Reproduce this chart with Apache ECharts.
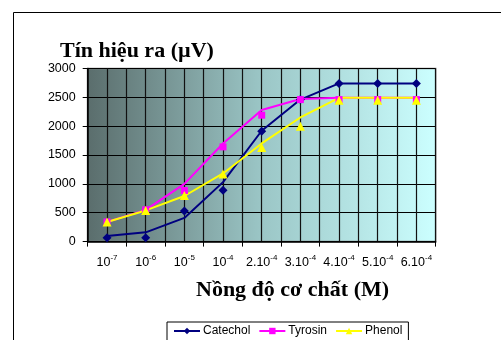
<!DOCTYPE html>
<html>
<head>
<meta charset="utf-8">
<script src="https://cdn.jsdelivr.net/npm/echarts@6/dist/echarts.min.js"></script>
<style>html,body{margin:0;padding:0;background:#fff;}#c{width:501px;height:340px;}</style>
</head>
<body>
<div id="c"></div>
<script>
// Tick labels: base and superscript exponent
var catBase = ['10', '10', '10', '10', '2.10', '3.10', '4.10', '5.10', '6.10'];
var catExp = ['-7', '-6', '-5', '-4', '-4', '-4', '-4', '-4', '-4'];
var categories = catBase.map(function (b, i) { return b + '^' + catExp[i]; });

// Series values (line = smoothed curve, pts = measured markers)
var catecholLine = [95, 160, 410, 1030, 1920, 2460, 2740, 2740, 2740];
var catecholPts  = [65, 65, 530, 890, 1910, 2460, 2740, 2740, 2740];
var tyrosinLine  = [340, 550, 1000, 1700, 2280, 2470, 2490, 2490, 2490];
var tyrosinPts   = [340, 550, 885, 1640, 2190, 2460, 2460, 2460, 2460];
var phenolLine   = [340, 540, 790, 1180, 1700, 2150, 2490, 2490, 2490];
var phenolPts    = [340, 540, 800, 1170, 1630, 2000, 2450, 2450, 2450];

var yTicks = [0, 500, 1000, 1500, 2000, 2500, 3000];
var gridCols = [];
for (var k = 0; k < categories.length * 2; k++) gridCols.push(String(k));

var chart = echarts.init(document.getElementById('c'));
var C1 = '#000080', C2 = '#ff00ff', C3 = '#ffff00';

function lineSeries(name, data, color, symbol, size) {
  return {
    name: name, type: 'line', data: data, xAxisIndex: 0, yAxisIndex: 0,
    symbol: symbol, symbolSize: size, showSymbol: false,
    lineStyle: { color: color, width: 2 }, itemStyle: { color: color },
    animation: false, z: 3
  };
}
function ptSeries(name, data, color, symbol, size) {
  return {
    name: name, type: 'scatter', data: data, xAxisIndex: 0, yAxisIndex: 0,
    symbol: symbol, symbolSize: size, itemStyle: { color: color, opacity: 1 },
    animation: false, z: 4
  };
}

chart.setOption({
  animation: false,
  title: [
    { text: 'Tín hiệu ra (µV)', left: 60, top: 40, padding: 0,
      textStyle: { fontFamily: 'Liberation Serif', fontWeight: 'bold', fontSize: 22, color: '#000' } },
    { text: 'Nồng độ cơ chất (M)', left: 196, top: 279, padding: 0,
      textStyle: { fontFamily: 'Liberation Serif', fontWeight: 'bold', fontSize: 22, color: '#000' } }
  ],
  graphic: [
    { type: 'rect', shape: { x: 13.5, y: 12.5, width: 600, height: 400 }, silent: true,
      style: { fill: null, stroke: '#000', lineWidth: 1 }, z: -10 }
  ],
  legend: {
    data: ['Catechol', 'Tyrosin', 'Phenol'],
    left: 167, top: 322, padding: [3, 6, 6, 6], itemGap: 8,
    itemWidth: 26, itemHeight: 8,
    borderColor: '#000', borderWidth: 1, backgroundColor: '#fff',
    textStyle: { fontFamily: 'Liberation Sans', fontSize: 12, color: '#000', padding: [0, 0, 0, -2] }
  },
  grid: { left: 87.7, right: 65.3, top: 68.4, bottom: 98.4, show: true,
    backgroundColor: { type: 'linear', x: 0, y: 0, x2: 1, y2: 0,
      colorStops: [{ offset: 0, color: '#5a6d6c' }, { offset: 0.5, color: '#9bc6c6' }, { offset: 1, color: '#ccffff' }] },
    borderColor: '#808080', borderWidth: 1.5 },
  xAxis: [
    { type: 'category', data: categories, boundaryGap: true,
      axisLine: { lineStyle: { color: '#000', width: 1.5 } },
      axisTick: { show: true, length: 5, inside: false, lineStyle: { color: '#000' } },
      splitLine: { show: false },
      axisLabel: { margin: 12, interval: 0,
        formatter: function (v) { var p = v.split('^'); return '{b|' + p[0] + '}{s|' + p[1] + '}'; },
        rich: {
          b: { fontFamily: 'Liberation Sans', fontSize: 12.5, color: '#000', verticalAlign: 'bottom', lineHeight: 15 },
          s: { fontFamily: 'Liberation Sans', fontSize: 8, color: '#000', verticalAlign: 'top', lineHeight: 15, padding: [0, 0, 7, 0] }
        } } },
    { type: 'category', data: gridCols, boundaryGap: true, position: 'top',
      axisLine: { show: false }, axisTick: { show: false }, axisLabel: { show: false },
      splitLine: { show: true, lineStyle: { color: '#111', width: 1.2 } } }
  ],
  yAxis: {
    type: 'value', min: 0, max: 3000, interval: 500,
    axisLine: { show: true, lineStyle: { color: '#000', width: 1.5 } },
    axisTick: { show: true, length: 5, lineStyle: { color: '#000' } },
    splitLine: { show: true, lineStyle: { color: '#000', width: 1.2 } },
    axisLabel: { margin: 12, fontFamily: 'Liberation Sans', fontSize: 12.5, color: '#000',
      formatter: function (v) { return yTicks.indexOf(v) >= 0 ? String(v) : ''; } }
  },
  series: [
    lineSeries('Catechol', catecholLine, C1, 'diamond', 9),
    lineSeries('Tyrosin', tyrosinLine, C2, 'rect', 7),
    lineSeries('Phenol', phenolLine, C3, 'triangle', 9),
    ptSeries('Catechol pts', catecholPts, C1, 'diamond', 9),
    ptSeries('Tyrosin pts', tyrosinPts, C2, 'rect', 7),
    ptSeries('Phenol pts', phenolPts, C3, 'triangle', 9)
  ]
});
</script>
</body>
</html>
